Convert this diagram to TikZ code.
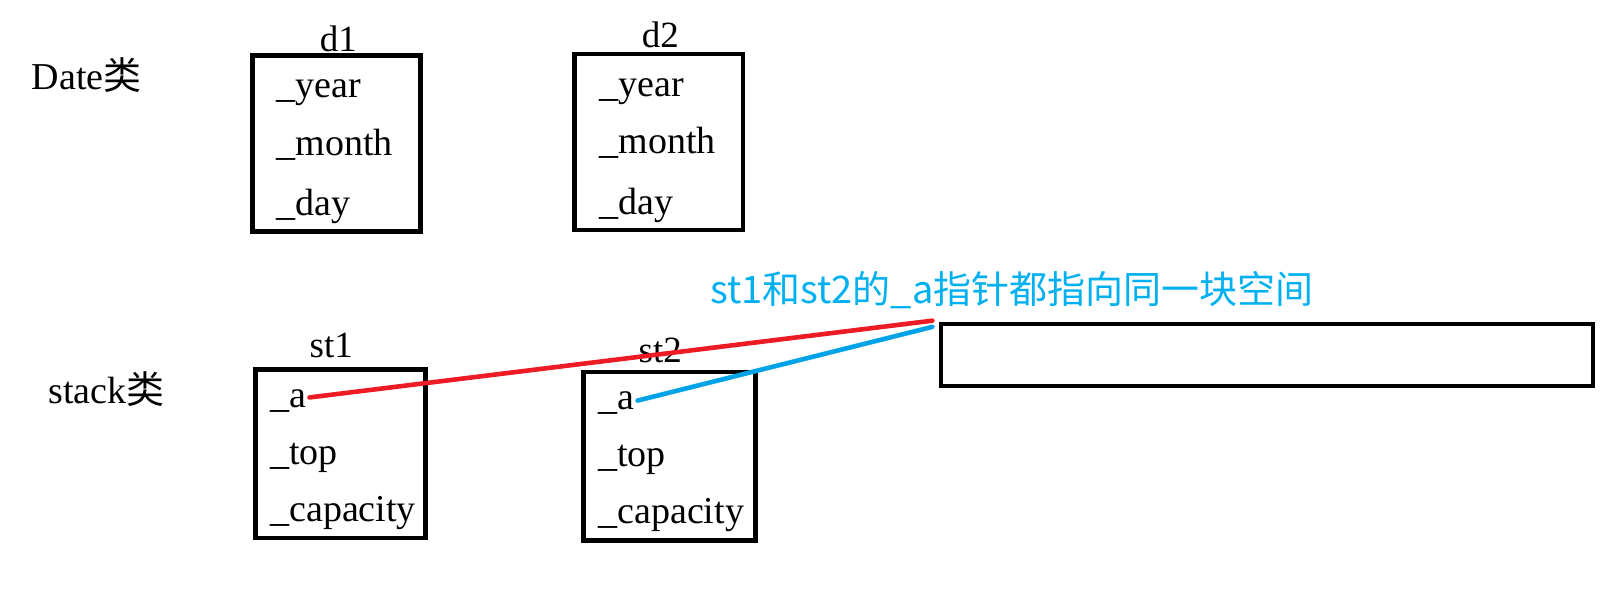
\documentclass[tikz,border=0pt]{standalone}
\usepackage{fontspec}
\setmainfont{Liberation Serif}
\newfontfamily\cjk{Noto Sans CJK SC}
\usetikzlibrary{fit,calc}
\definecolor{redline}{RGB}{237,28,36}
\definecolor{blueline}{RGB}{0,162,232}
\definecolor{bluetext}{RGB}{0,176,240}
\begin{document}
\begin{tikzpicture}[x=1.035pt,y=-1.035pt,
  objbox/.style={draw=black,line width=4.5pt,inner sep=0pt},
  field/.style={anchor=base west,inner sep=0pt,font=\fontsize{38}{44}\selectfont},
  title/.style={anchor=base,inner sep=0pt,font=\fontsize{37}{44}\selectfont},
  note/.style={anchor=base west,inner sep=0pt,text=bluetext,font=\cjk\fontsize{38}{46}\selectfont},
  ptr/.style={line width=4.6pt,line cap=round}]
\useasboundingbox (0,0) rectangle (1560.4,572.9);
% class labels
\node[field] (dateL) at (30.6,86.5) {Date{\cjk 类}};
\node[field] (stackL) at (46.7,390) {stack{\cjk 类}};
% d1
\coordinate (d1nw) at (244,53.4);
\coordinate (d1se) at (406.5,223.5);
\node[objbox,fit=(d1nw)(d1se)] (d1) {};
\node[title] (d1t) at (327,49.5) {d1};
\node[field] (d1y) at (267.3,94.5) {\_year};
\node[field] (d1m) at (267.3,150.5) {\_month};
\node[field] (d1d) at (267.3,208.5) {\_day};
% d2
\coordinate (d2nw) at (555,52);
\coordinate (d2se) at (718,222);
\node[objbox,fit=(d2nw)(d2se)] (d2) {};
\node[title] (d2t) at (638,45.5) {d2};
\node[field] (d2y) at (579,93.5) {\_year};
\node[field] (d2m) at (579,148.5) {\_month};
\node[field] (d2d) at (579,207) {\_day};
% st1
\coordinate (s1nw) at (247,357);
\coordinate (s1se) at (411,520);
\node[objbox,fit=(s1nw)(s1se)] (st1) {};
\node[title] (st1t) at (320,345) {st1};
\node[field] (st1a) at (261,394) {\_a};
\node[field] (st1p) at (261,449) {\_top};
\node[field] (st1c) at (261,504) {\_capacity};
% st2
\coordinate (s2nw) at (564,359.4);
\coordinate (s2se) at (730,522);
\node[objbox,fit=(s2nw)(s2se)] (st2) {};
\node[title] (st2t) at (638,350) {st2};
\node[field] (st2a) at (578,396) {\_a};
\node[field] (st2p) at (578,451) {\_top};
\node[field] (st2c) at (578,506) {\_capacity};
% memory block
\coordinate (mnw) at (909,313);
\coordinate (mse) at (1539,373);
\node[objbox,fit=(mnw)(mse)] (mem) {};
\node[note] (noteT) at (686,293) {st1和st2的\_a指针都指向同一块空间};
% pointers
\draw[ptr,redline] ($(st1a.base east)+(3,-10)$) -- ($(mem.north west)+(-6,-1)$);
\draw[ptr,blueline] ($(st2a.base east)+(3,-9)$) -- ($(mem.north west)+(-6,5)$);
\end{tikzpicture}
\end{document}
